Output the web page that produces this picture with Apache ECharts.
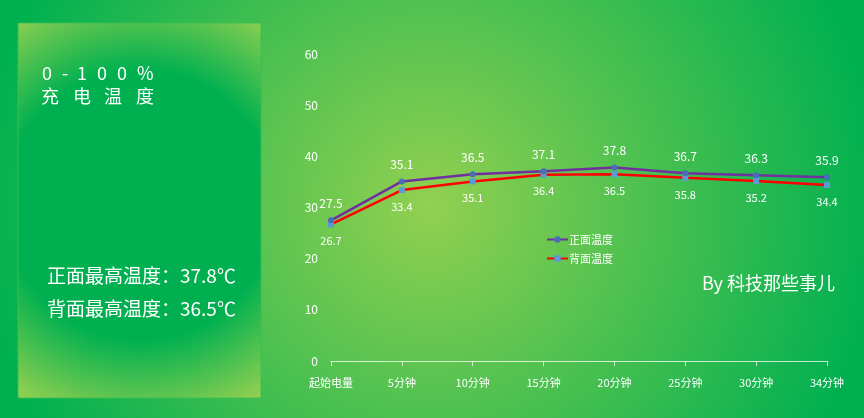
<!DOCTYPE html>
<html>
<head>
<meta charset="utf-8">
<script src="https://cdn.jsdelivr.net/npm/echarts@6/dist/echarts.min.js"></script>
<style>
html,body{margin:0;padding:0;}
#c{width:864px;height:418px;}
</style>
</head>
<body>
<div id="c"></div>
<script>
const categories = ['起始电量','5分钟','10分钟','15分钟','20分钟','25分钟','30分钟','34分钟'];
const frontTemp = [27.5, 35.1, 36.5, 37.1, 37.8, 36.7, 36.3, 35.9];
const backTemp = [26.7, 33.4, 35.1, 36.4, 36.5, 35.8, 35.2, 34.4];
const seriesNames = ['正面温度', '背面温度'];
const yTicks = {min: 0, max: 60, interval: 10};

const FONT = '"Noto Sans CJK SC", "Noto Sans", sans-serif';
const chart = echarts.init(document.getElementById('c'));

function chars(list, y, size) {
  return list.map(([ch, x]) => ({
    type: 'text', x: x, y: y,
    style: {text: ch, fill: '#fff', font: size + 'px ' + FONT, textVerticalAlign: 'middle'}
  }));
}

const titleTop = chars([['0',42],['-',62],['1',77],['0',97],['0',117],['%',137]], 73, 18);
const titleBot = chars([['充',41],['电',73],['温',104],['度',136]], 96, 18);

chart.setOption({
  backgroundColor: {
    type: 'radial', x: 430, y: 205, r: 450, global: true,
    colorStops: [{offset: 0, color: '#92d050'}, {offset: 1, color: '#00b050'}]
  },
  textStyle: {fontFamily: FONT},
  graphic: [
    {
      type: 'rect', z: -1,
      shape: {x: 18, y: 23, width: 243, height: 375},
      style: {
        fill: {
          type: 'radial', x: 140, y: 205, r: 225, global: true,
          colorStops: [{offset: 0, color: '#00b050'}, {offset: 0.6, color: '#00b050'}, {offset: 1, color: '#92d050'}]
        },
        stroke: 'rgba(60,190,80,0.9)', lineWidth: 1
      }
    },
    ...titleTop, ...titleBot,
    {type: 'text', x: 47, y: 276, style: {text: '正面最高温度：37.8℃', fill: '#fff', font: '19px ' + FONT, textVerticalAlign: 'middle'}},
    {type: 'text', x: 47, y: 309, style: {text: '背面最高温度：36.5℃', fill: '#fff', font: '19px ' + FONT, textVerticalAlign: 'middle'}},
    {type: 'text', x: 835, y: 283, style: {text: 'By 科技那些事儿', fill: '#fff', font: '18px ' + FONT, textAlign: 'right', textVerticalAlign: 'middle'}}
  ],
  legend: {
    orient: 'vertical', left: 541, top: 229,
    itemWidth: 21, itemHeight: 8, itemGap: 8,
    textStyle: {color: '#fff', fontSize: 11, fontFamily: FONT, padding: [0,0,0,-4]},
    data: seriesNames
  },
  grid: {left: 331, right: 37, top: 54, bottom: 57},
  xAxis: {
    type: 'category', boundaryGap: false, data: categories,
    axisLine: {lineStyle: {color: 'rgba(255,255,255,0.75)', width: 1}},
    axisTick: {show: true, length: 5, lineStyle: {color: 'rgba(255,255,255,0.75)'}},
    axisLabel: {color: '#fff', fontSize: 11, margin: 16, fontFamily: FONT},
    splitLine: {show: false}
  },
  yAxis: {
    type: 'value', min: yTicks.min, max: yTicks.max, interval: yTicks.interval,
    axisLine: {show: false}, axisTick: {show: false},
    splitLine: {show: false},
    axisLabel: {color: '#fff', fontSize: 12, margin: 13, fontFamily: FONT}
  },
  series: [
    {
      name: seriesNames[0], type: 'line', data: frontTemp,
      symbol: 'circle', symbolSize: 6,
      lineStyle: {color: '#7030a0', width: 2.5},
      itemStyle: {color: '#4a6db8'},
      label: {show: true, position: 'top', distance: 8, color: '#fff', fontSize: 12, fontFamily: FONT},
      z: 3
    },
    {
      name: seriesNames[1], type: 'line', data: backTemp,
      symbol: 'rect', symbolSize: 6,
      lineStyle: {color: '#ff0000', width: 2.5},
      itemStyle: {color: '#5b9bd5'},
      label: {show: true, position: 'bottom', distance: 8, color: '#fff', fontSize: 11, fontFamily: FONT},
      z: 2
    }
  ],
  animation: false
});
</script>
</body>
</html>
